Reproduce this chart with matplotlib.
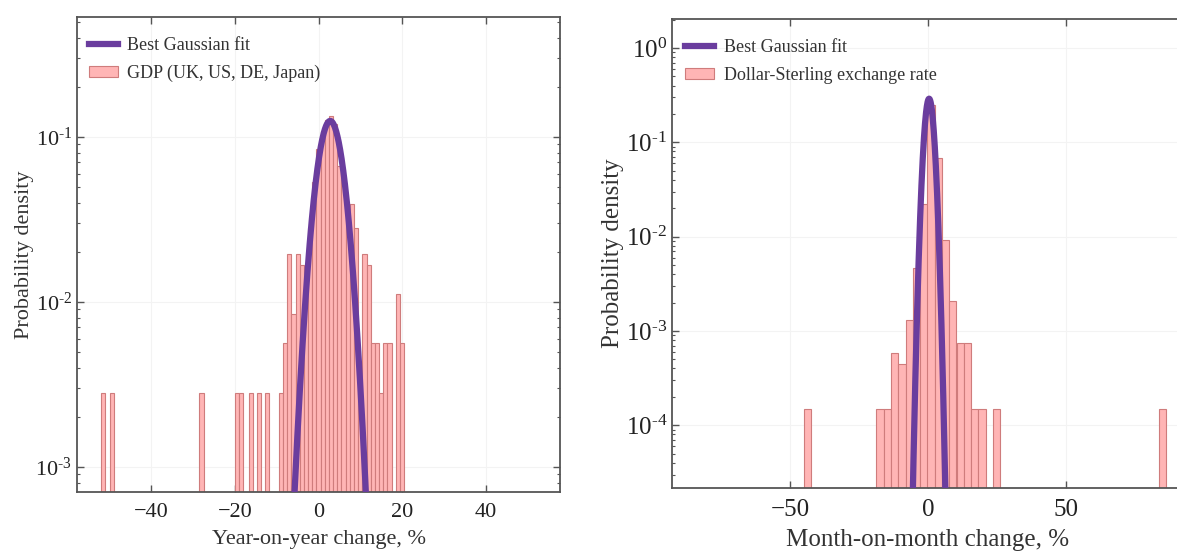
import numpy as np
import matplotlib.pyplot as plt
from matplotlib.ticker import FixedLocator, FuncFormatter

plt.rcParams['font.family'] = ['Liberation Serif', 'DejaVu Serif']
plt.rcParams['mathtext.fontset'] = 'custom'
plt.rcParams['mathtext.rm'] = 'Liberation Serif'
plt.rcParams['mathtext.it'] = 'Liberation Serif:italic'

# left panel: GDP year-on-year change, histogram
gdp_centres = [-51.5, -49.5, -28.0, -19.6, -18.6, -16.1, -14.3, -12.4,
               -9, -8, -7, -6, -5, -4, -3, -2, -1, 0, 1, 2, 3, 4, 5, 6, 7,
               8, 9, 10, 11, 12, 13, 14, 15, 16, 17, 19, 20]
gdp_density = [0.0028, 0.0028, 0.0028, 0.0028, 0.0028, 0.0028, 0.0028, 0.0028,
               0.0028, 0.0056, 0.0196, 0.0084, 0.0196, 0.0168, 0.0112, 0.028,
               0.053, 0.084, 0.109, 0.126, 0.134, 0.120, 0.067, 0.053, 0.039,
               0.039, 0.028, 0.0028, 0.0196, 0.0168, 0.0056, 0.0056, 0.0028,
               0.0056, 0.0056, 0.0112, 0.0056]
gdp_fit = dict(amp=0.125, mu=2.8, sigma=2.65)

# right panel: dollar-sterling month-on-month change
fx_centres = [-43.8, -17.4, -14.7, -12.1, -9.4, -6.8, -4.2, -1.5, 1.1, 3.8,
              6.4, 9.0, 11.7, 14.3, 17.0, 19.6, 24.9, 85.1]
fx_density = [1.47e-4, 1.47e-4, 1.47e-4, 5.9e-4, 4.5e-4, 1.32e-3, 4.7e-3,
              0.0222, 0.25, 0.068, 9.1e-3, 2.1e-3, 7.4e-4, 7.4e-4, 1.47e-4,
              1.47e-4, 1.47e-4, 1.47e-4]
fx_fit = dict(amp=0.29, mu=0.4, sigma=1.35)

purple = '#6a3d9e'
bar_face = '#ffb5b5'
bar_edge = '#cf7c7c'


def gauss(x, amp, mu, sigma):
    return amp * np.exp(-(x - mu) ** 2 / (2 * sigma ** 2))


def pow_label(v, pos):
    e = int(round(np.log10(v)))
    return r'$10^{\text{%d}}$' % e


fig = plt.figure(figsize=(11.77, 5.52), dpi=100)
ax1 = fig.add_axes([77 / 1177, 1 - 492 / 552, (560 - 77) / 1177, (492 - 17) / 552])
ax2 = fig.add_axes([672 / 1177, 1 - 488 / 552, (1184 - 672) / 1177, (488 - 19) / 552])

panels = [
    (ax1, gdp_centres, gdp_density, 1.0, gdp_fit, 'GDP (UK, US, DE, Japan)',
     'Year-on-year change, %', (-57.8, 57.8), (7.05e-4, 0.533), [-40, -20, 0, 20, 40], 16, -0.017),
    (ax2, fx_centres, fx_density, 2.64, fx_fit, 'Dollar-Sterling exchange rate',
     'Month-on-month change, %', (-93, 93), (2.16e-5, 2.03), [-50, 0, 50], 18, -0.014),
]

for ax, centres, dens, width, fit, label, xlabel, xlim, ylim, xticks, fs, lx in panels:
    ax.set_yscale('log')
    bars = ax.bar(centres, dens, width=width, color=bar_face, edgecolor=bar_edge,
                  linewidth=0.8, label=label, zorder=2)
    xs = np.linspace(xlim[0], xlim[1], 2000)
    line, = ax.plot(xs, gauss(xs, **fit), color=purple, lw=4.5,
                    label='Best Gaussian fit', zorder=3)
    ax.set_xlim(*xlim)
    ax.set_ylim(*ylim)
    ax.xaxis.set_major_locator(FixedLocator(xticks))
    ax.yaxis.set_major_formatter(FuncFormatter(pow_label))
    ax.grid(True, which='major', color='#f3f3f3', lw=0.8, zorder=0)
    ax.set_axisbelow(True)
    ax.tick_params(which='both', direction='in', top=True, right=True,
                   labelsize=fs, color='#555555', labelcolor='#222222')
    ax.tick_params(which='major', length=5, width=1)
    ax.tick_params(which='minor', length=2.5, width=0.8)
    ax.tick_params(axis='x', which='major', pad=8)
    for sp in ax.spines.values():
        sp.set_color('#555555')
        sp.set_linewidth(1.3)
    ax.set_xlabel(xlabel, fontsize=fs, color='#333333', labelpad=6)
    ax.set_ylabel('Probability density', fontsize=fs, color='#333333', labelpad=1)
    ax.legend([line, bars], ['Best Gaussian fit', label], loc='upper left',
              bbox_to_anchor=(lx, 1.0), frameon=False, fontsize=13,
              handlelength=1.6, handleheight=0.6, handletextpad=0.55,
              labelspacing=0.6, borderaxespad=0.7, labelcolor='#333333')

fig.savefig('out.png', dpi=100)
